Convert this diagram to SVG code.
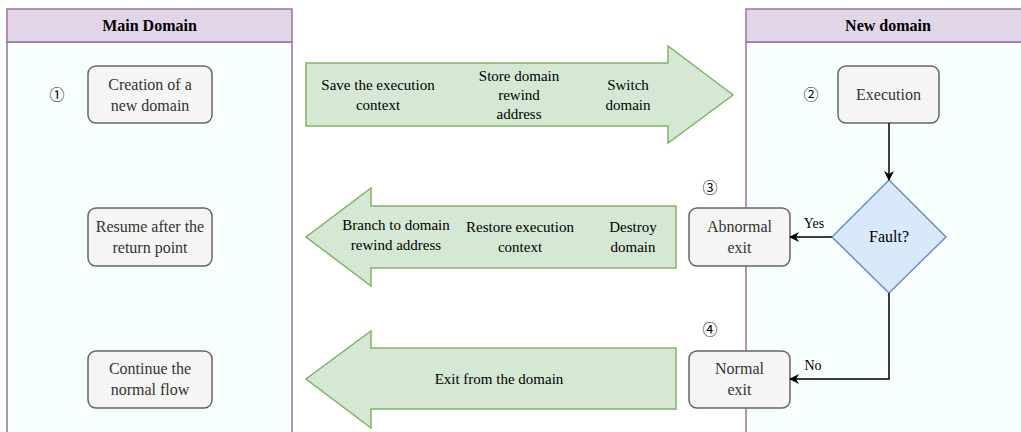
<svg xmlns="http://www.w3.org/2000/svg" width="1021" height="432" viewBox="0 0 1021 432">
<defs>
<style>
.lane{fill:#f7ffff;stroke:#9673a6;stroke-width:1.5}
.hdr{fill:#e1d5e7;stroke:#9673a6;stroke-width:1.5}
.ht{font-family:'Liberation Serif','Times New Roman',Times,'DejaVu Serif',serif;font-weight:bold;font-size:16px;fill:#000;text-anchor:middle}
.node{fill:#f5f5f5;stroke:#666;stroke-width:1.5}
.nt{font-family:'Liberation Serif','Times New Roman',Times,'DejaVu Serif',serif;font-size:16px;fill:#333;text-anchor:middle}
.arr{fill:#d5e8d4;stroke:#82b366;stroke-width:1.5}
.at{font-family:'Liberation Serif','Times New Roman',Times,'DejaVu Serif',serif;font-size:15px;fill:#000;text-anchor:middle}
.num{font-family:'Noto Sans CJK SC','Noto Sans CJK JP',sans-serif;font-size:15px;fill:#000;text-anchor:middle}
.dia{fill:#dae8fc;stroke:#6c8ebf;stroke-width:1.5}
.con{fill:none;stroke:#000;stroke-width:1.5}
.lbl{font-family:'Liberation Serif','Times New Roman',Times,'DejaVu Serif',serif;font-size:14px;fill:#000;text-anchor:middle}
</style>
<marker id="ah" viewBox="0 0 10 10" refX="9" refY="5" markerWidth="10" markerHeight="10" markerUnits="userSpaceOnUse" orient="auto">
<path d="M0,0 L10,5 L0,10 L3,5 Z" fill="#000"/>
</marker>
</defs>
<g id="lane-main">
<rect class="lane" x="7" y="42" width="285" height="400"/>
<rect class="hdr" x="7" y="9" width="285" height="33"/>
<text class="ht" x="149.5" y="31">Main Domain</text>
</g>
<g id="lane-new">
<rect class="lane" x="746" y="42" width="285" height="400"/>
<rect class="hdr" x="746" y="9" width="285" height="33"/>
<text class="ht" x="888" y="31">New domain</text>
</g>
<g id="arrow-top">
<path class="arr" d="M306,63 H668 V46 L733,95 L668,143 V126 H306 Z"/>
<text class="at" x="378" y="90">Save the execution</text>
<text class="at" x="378" y="110">context</text>
<text class="at" x="519" y="81">Store domain</text>
<text class="at" x="519" y="100">rewind</text>
<text class="at" x="519" y="119">address</text>
<text class="at" x="628" y="90">Switch</text>
<text class="at" x="628" y="110">domain</text>
</g>
<g id="arrow-mid">
<path class="arr" d="M676,206 H371 V188 L306,237 L371,286 V268 H676 Z"/>
<text class="at" x="396" y="230">Branch to domain</text>
<text class="at" x="396" y="250">rewind address</text>
<text class="at" x="520" y="232">Restore execution</text>
<text class="at" x="520" y="252">context</text>
<text class="at" x="633" y="232">Destroy</text>
<text class="at" x="633" y="252">domain</text>
</g>
<g id="arrow-bot">
<path class="arr" d="M676,348 H371 V331 L306,379 L371,428 V409 H676 Z"/>
<text class="at" x="499" y="384">Exit from the domain</text>
</g>
<g id="n-create">
<rect class="node" x="88" y="66" width="124" height="57" rx="8"/>
<text class="nt" x="150" y="90">Creation of a</text>
<text class="nt" x="150" y="111">new domain</text>
</g>
<g id="n-resume">
<rect class="node" x="88" y="208" width="124" height="58" rx="8"/>
<text class="nt" x="150" y="232">Resume after the</text>
<text class="nt" x="150" y="253">return point</text>
</g>
<g id="n-continue">
<rect class="node" x="88" y="351" width="124" height="57" rx="8"/>
<text class="nt" x="150" y="374">Continue the</text>
<text class="nt" x="150" y="395">normal flow</text>
</g>
<g id="n-exec">
<rect class="node" x="838" y="66" width="101" height="57" rx="8"/>
<text class="nt" x="888.5" y="100">Execution</text>
</g>
<g id="n-fault">
<path class="dia" d="M889,180 L946,237 L889,293 L832,237 Z"/>
<text class="nt" x="889" y="242" style="fill:#000">Fault?</text>
</g>
<g id="n-abnormal">
<rect class="node" x="689" y="208" width="101" height="58" rx="8"/>
<text class="nt" x="739.5" y="232">Abnormal</text>
<text class="nt" x="739.5" y="253">exit</text>
</g>
<g id="n-normal">
<rect class="node" x="689" y="351" width="101" height="57" rx="8"/>
<text class="nt" x="739.5" y="374">Normal</text>
<text class="nt" x="739.5" y="395">exit</text>
</g>
<g id="numbers">
<text class="num" x="57" y="100">①</text>
<text class="num" x="811" y="100">②</text>
<text class="num" x="710" y="193">③</text>
<text class="num" x="710" y="335">④</text>
</g>
<g id="connectors">
<path class="con" d="M889,123 V180" marker-end="url(#ah)"/>
<path class="con" d="M832,237 H790" marker-end="url(#ah)"/>
<path class="con" d="M889,293 V379 H790" marker-end="url(#ah)"/>
<text class="lbl" x="814" y="228">Yes</text>
<text class="lbl" x="813" y="370">No</text>
</g>
</svg>
